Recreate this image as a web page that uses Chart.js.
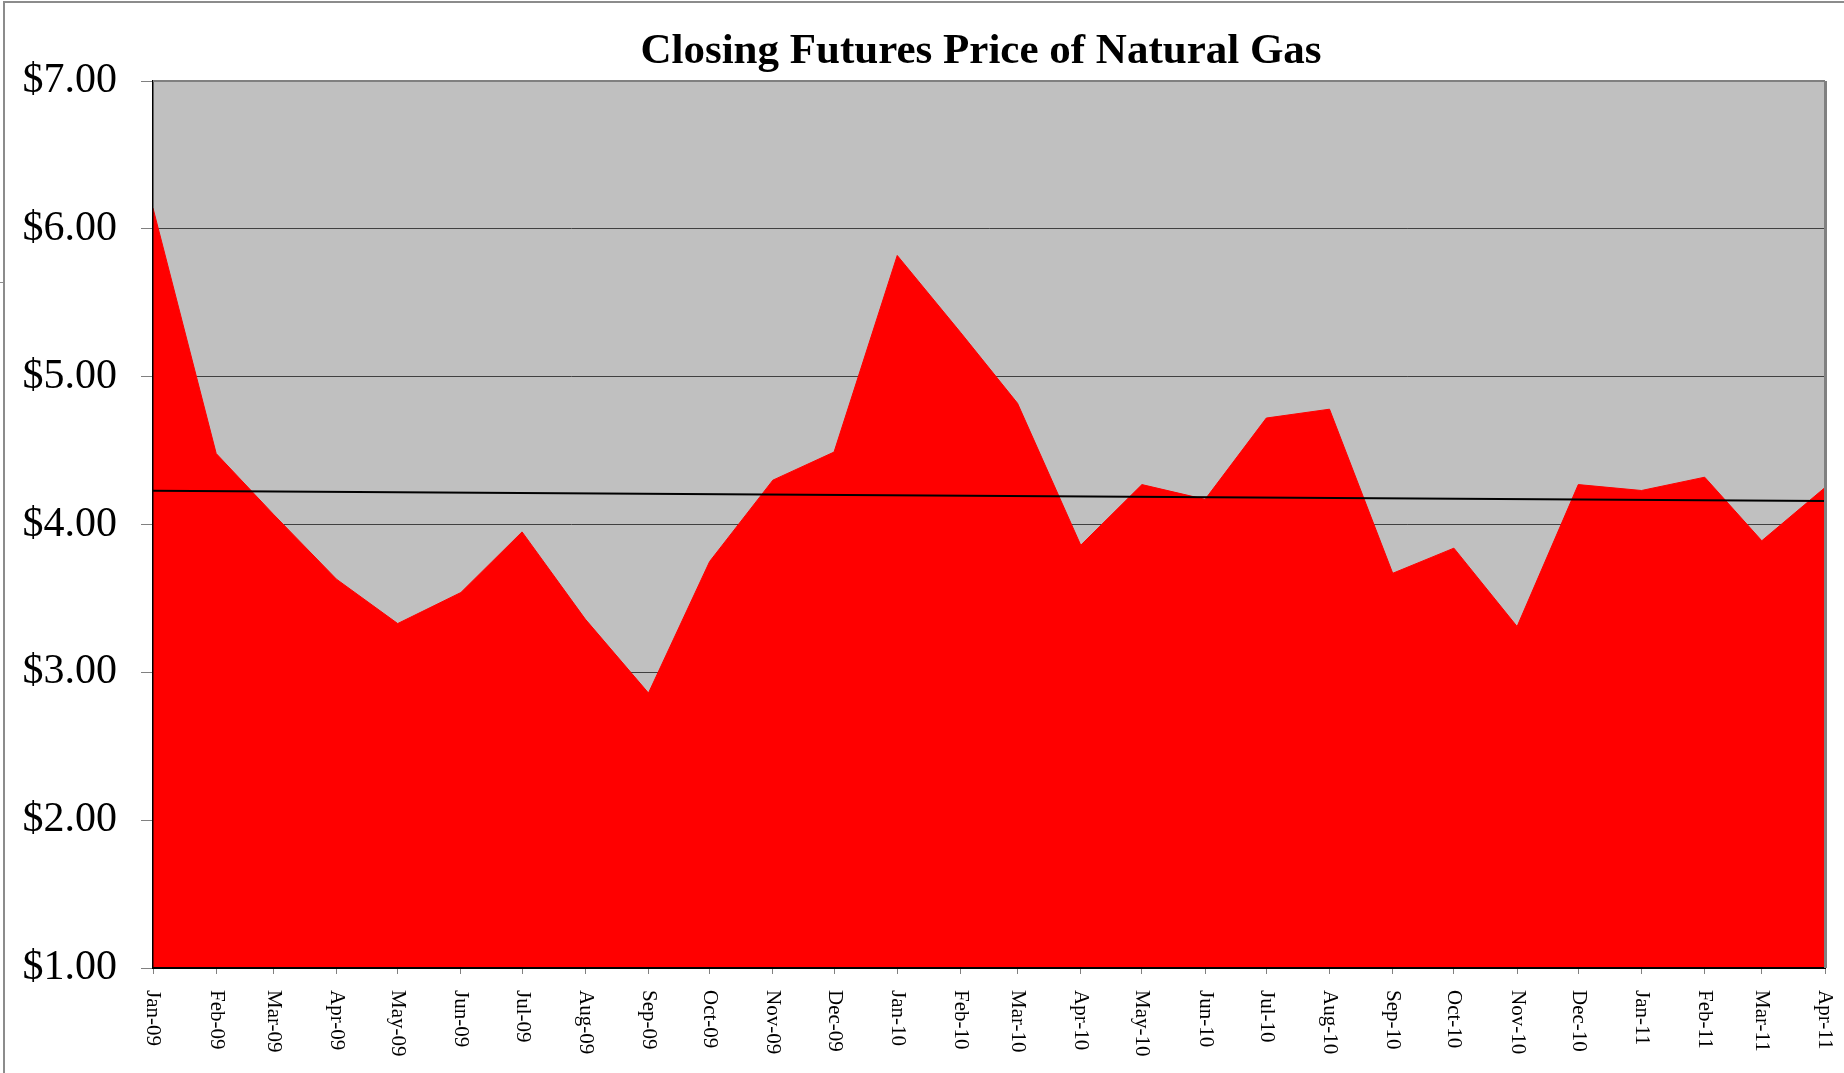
<!DOCTYPE html>
<html>
<head>
<meta charset="utf-8">
<title>Closing Futures Price of Natural Gas</title>
<script src="https://cdn.jsdelivr.net/npm/chart.js@4.4.1/dist/chart.umd.min.js"></script>
<style>
  html, body { margin: 0; padding: 0; background: #fff; }
  canvas { display: block; }
</style>
</head>
<body>
<canvas id="gasChart" width="1844" height="1073"></canvas>
<script>
// month labels, one price per month (first of month)
const months = ['Jan-09', 'Feb-09', 'Mar-09', 'Apr-09', 'May-09', 'Jun-09', 'Jul-09', 'Aug-09', 'Sep-09', 'Oct-09', 'Nov-09', 'Dec-09',
                'Jan-10', 'Feb-10', 'Mar-10', 'Apr-10', 'May-10', 'Jun-10', 'Jul-10', 'Aug-10', 'Sep-10', 'Oct-10', 'Nov-10', 'Dec-10',
                'Jan-11', 'Feb-11', 'Mar-11', 'Apr-11'];
const prices = [6.14, 4.48, 4.07, 3.63, 3.33, 3.54, 3.95, 3.36, 2.86, 3.75, 4.30, 4.49,
                5.82, 5.30, 4.82, 3.86, 4.27, 4.17, 4.72, 4.78, 3.67, 3.84, 3.31, 4.27,
                4.23, 4.32, 3.89, 4.25];
const priceTicks = [1, 2, 3, 4, 5, 6, 7];

// excel date axis: x is days since Jan 1 2009
const dayMs = 86400000;
const startMs = Date.UTC(2009, 0, 1);
const monthDays = months.map((m, i) => (Date.UTC(2009, i, 1) - startMs) / dayMs);

// linear trendline (least squares), like excel's
let n = prices.length, sx = 0, sy = 0, sxx = 0, sxy = 0;
monthDays.forEach((x, i) => { sx += x; sy += prices[i]; sxx += x * x; sxy += x * prices[i]; });
const slope = (n * sxy - sx * sy) / (n * sxx - sx * sx);
const icpt = (sy - slope * sx) / n;
const xFirst = monthDays[0], xLast = monthDays[monthDays.length - 1];

const chartDecor = {
  id: 'chartDecor',
  beforeDraw(chart) {
    const {ctx, chartArea: a} = chart;
    ctx.save();
    ctx.fillStyle = '#c0c0c0';
    ctx.fillRect(a.left, a.top, a.right - a.left, a.bottom - a.top);
    ctx.restore();
  },
  afterDraw(chart) {
    const {ctx, chartArea: a} = chart;
    const xs = chart.scales.x;
    ctx.save();

    // outer frame
    ctx.strokeStyle = '#8c8c8c';
    ctx.lineWidth = 2;
    ctx.beginPath();
    ctx.moveTo(4, chart.height);
    ctx.lineTo(4, 2);
    ctx.lineTo(chart.width, 2);
    ctx.stroke();
    ctx.lineWidth = 1;
    ctx.beginPath();
    ctx.moveTo(0, 282.5);
    ctx.lineTo(4, 282.5);
    ctx.stroke();

    // plot area top / right border
    ctx.strokeStyle = '#808080';
    ctx.lineWidth = 2;
    ctx.beginPath();
    ctx.moveTo(a.left, a.top);
    ctx.lineTo(a.right, a.top);
    ctx.stroke();
    ctx.lineWidth = 3;
    ctx.beginPath();
    ctx.moveTo(a.right + 0.5, a.top);
    ctx.lineTo(a.right + 0.5, a.bottom);
    ctx.stroke();

    // title
    ctx.fillStyle = '#000';
    ctx.font = 'bold 43px "Liberation Serif"';
    ctx.textAlign = 'center';
    ctx.textBaseline = 'middle';
    ctx.fillText('Closing Futures Price of Natural Gas', 981, 52);

    // month labels, rotated to read top-down
    ctx.font = '21px "Liberation Serif"';
    ctx.textAlign = 'left';
    ctx.textBaseline = 'middle';
    months.forEach((m, i) => {
      const px = xs.getPixelForValue(monthDays[i]);
      ctx.save();
      ctx.translate(px, a.bottom + 22);
      ctx.rotate(Math.PI / 2);
      ctx.fillText(m, 0, 0);
      ctx.restore();
    });
    ctx.restore();
  }
};

const ctx = document.getElementById('gasChart').getContext('2d');
new Chart(ctx, {
  type: 'line',
  data: {
    datasets: [{
      label: 'Trend',
      data: [{x: xFirst, y: icpt + slope * xFirst}, {x: xLast, y: icpt + slope * xLast}],
      borderColor: '#000',
      borderWidth: 2,
      pointRadius: 0,
      fill: false,
      order: 0
    }, {
      label: 'Closing futures price',
      data: months.map((m, i) => ({x: monthDays[i], y: prices[i]})),
      borderColor: '#ff0000',
      borderWidth: 1,
      backgroundColor: '#ff0000',
      fill: 'start',
      pointRadius: 0,
      tension: 0,
      order: 1
    }]
  },
  options: {
    responsive: false,
    animation: false,
    layout: { padding: { top: 81, right: 19, left: 0, bottom: 0 } },
    plugins: {
      legend: { display: false },
      title: { display: false },
      tooltip: { enabled: false }
    },
    scales: {
      x: {
        type: 'linear',
        min: xFirst,
        max: xLast,
        afterBuildTicks: s => { s.ticks = monthDays.map(v => ({value: v})); },
        afterFit: s => { s.height = 105; },
        ticks: { display: false },
        grid: { drawOnChartArea: false, drawTicks: true, tickLength: 6, color: '#808080' },
        border: { color: '#000', width: 2, z: 1 }
      },
      y: {
        min: 1,
        max: 7,
        afterBuildTicks: s => { s.ticks = priceTicks.map(v => ({value: v})); },
        afterFit: s => { s.width = 153; },
        ticks: {
          font: { family: 'Liberation Serif', size: 42 },
          color: '#000',
          padding: 24,
          callback: v => '$' + v.toFixed(2)
        },
        grid: { color: '#404040', lineWidth: 1, tickLength: 12, tickColor: '#808080' },
        border: { color: '#000', width: 1.5, z: 1 }
      }
    }
  },
  plugins: [chartDecor]
});
</script>
</body>
</html>
